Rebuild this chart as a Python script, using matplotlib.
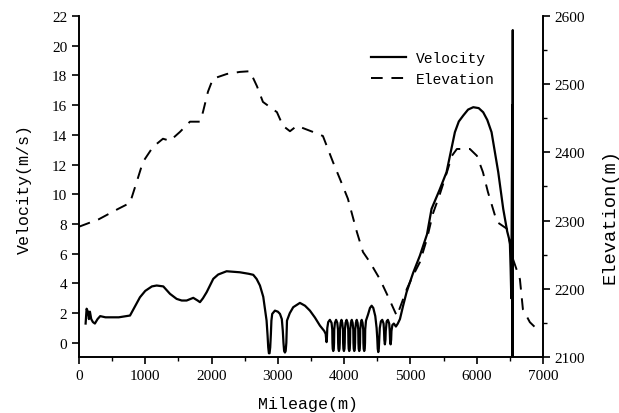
import matplotlib
matplotlib.use('Agg')
import matplotlib.pyplot as plt
from matplotlib.ticker import MultipleLocator

# elevation profile (dashed, right axis)
elev_x = [0, 300, 588, 770, 875, 965, 1116, 1267, 1373, 1523, 1674, 1825, 1870, 1946,
          2021, 2232, 2428, 2579, 2685, 2775, 2986, 3077, 3183, 3288, 3529, 3680, 3831,
          3937, 4057, 4193, 4284, 4389, 4540, 4661, 4796, 4947, 5038, 5143, 5249, 5339,
          5445, 5551, 5626, 5701, 5897, 6003, 6094, 6169, 6305, 6456, 6546, 6652, 6697,
          6802, 6908]
elev_y = [2291, 2302, 2317, 2326, 2358, 2386, 2408, 2420, 2417, 2430, 2445, 2445, 2459, 2489,
          2508, 2515, 2518, 2519, 2497, 2474, 2459, 2439, 2431, 2439, 2430, 2424, 2386,
          2361, 2332, 2283, 2254, 2239, 2214, 2189, 2160, 2200, 2219, 2239, 2273, 2310,
          2339, 2371, 2395, 2405, 2405, 2395, 2371, 2342, 2298, 2288, 2244, 2214, 2170,
          2151, 2141]

# velocity trace (solid, left axis); mileage doubles back where the trace loops
vel_x = [
    100, 115, 135, 150, 165, 185, 210, 240, 280, 320, 400, 600, 770,           # start
    850, 920, 1000, 1100, 1172, 1272, 1373, 1473, 1550, 1624, 1724, 1790,
    1825, 1870, 1926, 2026, 2100, 2227, 2428, 2560, 2629, 2680, 2730, 2780,
    2805, 2830, 2845, 2855, 2865, 2875, 2885, 2895, 2903, 2915, 2956, 3000,     # loop 1
    3032, 3060, 3075, 3085, 3095, 3107, 3118, 3128, 3133, 3138, 3180, 3232,     # loop 2
    3333, 3410, 3484, 3560, 3635, 3700,
    3722, 3730, 3735, 3740, 3746, 3760, 3785, 3810,
    3821, 3824, 3828, 3836, 3844, 3848, 3851, 3861, 3879, 3897,
    3907, 3910, 3914, 3922, 3930, 3934, 3937, 3947, 3960, 3972,
    3982, 3985, 3989, 3997, 4005, 4009, 4012, 4022, 4037, 4052,
    4062, 4065, 4069, 4077, 4085, 4089, 4092, 4102, 4115, 4128,
    4138, 4141, 4145, 4153, 4161, 4165, 4168, 4178, 4190, 4203,
    4213, 4216, 4220, 4228, 4236, 4240, 4243, 4253, 4265, 4278,
    4288, 4291, 4295, 4303, 4311, 4315, 4318, 4330, 4360, 4390, 4415, 4440,
    4470, 4490, 4500, 4507, 4515, 4523, 4530, 4538, 4555, 4575, 4595,
    4602, 4607, 4615, 4623, 4628, 4642, 4660, 4680,
    4688, 4693, 4701, 4709, 4714, 4728, 4750, 4781, 4810, 4842, 4890, 4942,
    5040, 5143, 5250, 5319, 5440, 5545, 5671, 5730, 5797, 5870, 5948, 6030,
    6098, 6160, 6224, 6325, 6400, 6460, 6500, 6512, 6522,
    6536, 6540, 6544, 6546]                                                    # spike
vel_y = [
    1.3, 2.3, 2.1, 1.6, 2.1, 1.6, 1.4, 1.3, 1.6, 1.8, 1.72, 1.72, 1.84,
    2.5, 3.07, 3.5, 3.8, 3.86, 3.8, 3.3, 2.96, 2.85, 2.85, 3.03, 2.85,
    2.74, 3.0, 3.41, 4.31, 4.6, 4.82, 4.75, 4.65, 4.58, 4.3, 3.86, 3.1,
    2.29, 1.5, 0.5, -0.3, -0.7, -0.7, -0.3, 0.6, 1.5, 1.95, 2.17, 2.1,
    1.95, 1.6, 0.8, 0.0, -0.55, -0.65, -0.55, 0.0, 0.8, 1.5, 2.0, 2.4,
    2.69, 2.5, 2.17, 1.7, 1.16, 0.8,
    0.6, 0.2, 0.05, 0.3, 1.0, 1.4, 1.55, 1.35,
    0.9, 0.0, -0.4, -0.55, -0.4, 0.0, 0.9, 1.35, 1.55, 1.35,
    0.9, 0.0, -0.4, -0.55, -0.4, 0.0, 0.9, 1.35, 1.55, 1.35,
    0.9, 0.0, -0.4, -0.55, -0.4, 0.0, 0.9, 1.35, 1.55, 1.35,
    0.9, 0.0, -0.4, -0.55, -0.4, 0.0, 0.9, 1.35, 1.55, 1.35,
    0.9, 0.0, -0.4, -0.55, -0.4, 0.0, 0.9, 1.35, 1.55, 1.35,
    0.9, 0.0, -0.4, -0.55, -0.4, 0.0, 0.9, 1.35, 1.55, 1.35,
    0.9, 0.0, -0.4, -0.55, -0.4, 0.0, 0.9, 1.5, 1.9, 2.35, 2.5, 2.35,
    1.8, 1.0, 0.3, -0.4, -0.62, -0.4, 0.3, 1.0, 1.45, 1.55, 1.3,
    0.8, 0.2, -0.1, 0.2, 0.8, 1.45, 1.55, 1.3,
    0.8, 0.2, -0.1, 0.2, 0.8, 1.2, 1.3, 1.1, 1.3, 1.6, 2.5, 3.41,
    4.7, 5.87, 7.3, 9.02, 10.3, 11.49, 14.18, 14.9, 15.3, 15.7, 15.86, 15.8,
    15.52, 15.0, 14.18, 11.49, 9.02, 7.5, 6.8, 5.0, 3.0,
    16.0, -1.5, 21.05, -1.5]

x_ticks = [0, 1000, 2000, 3000, 4000, 5000, 6000, 7000]
v_ticks = [0, 2, 4, 6, 8, 10, 12, 14, 16, 18, 20, 22]
e_ticks = [2100, 2200, 2300, 2400, 2500, 2600]

tick_font = 'Liberation Serif'
label_font = 'Liberation Mono'

fig = plt.figure(figsize=(6.19, 4.14), dpi=100)
ax1 = fig.add_axes([0.1276, 0.1353, 0.7496, 0.8237])
ax2 = ax1.twinx()

l1, = ax1.plot(vel_x, vel_y, color='black', linewidth=1.6, label='Velocity')
l2, = ax2.plot(elev_x, elev_y, color='black', linewidth=1.4, linestyle=(0, (6, 4.5)),
               label='Elevation')

ax1.set_xlim(0, 7000)
ax1.set_ylim(-0.95, 22)
ax2.set_ylim(2100, 2600)
ax1.set_xticks(x_ticks)
ax1.set_yticks(v_ticks)
ax2.set_yticks(e_ticks)
ax1.xaxis.set_minor_locator(MultipleLocator(500))
ax2.yaxis.set_minor_locator(MultipleLocator(50))

for ax in (ax1, ax2):
    ax.spines['top'].set_visible(False)
    for s in ax.spines.values():
        s.set_linewidth(1.2)
    ax.tick_params(which='major', direction='out', length=5, width=1.2, labelsize=11)
    ax.tick_params(which='minor', direction='out', length=3, width=1.0)
    for lab in ax.get_xticklabels() + ax.get_yticklabels():
        lab.set_fontfamily(tick_font)

# axis titles placed where the reference has them
fig.text(308 / 619, 1 - 405 / 414, 'Mileage(m)', fontfamily=label_font, fontsize=12,
         ha='center', va='center')
fig.text(24 / 619, 1 - 189 / 414, 'Velocity(m/s)', fontfamily=label_font, fontsize=12,
         rotation=90, ha='center', va='center')
fig.text(610 / 619, 1 - 217 / 414, 'Elevation(m)', fontfamily=label_font, fontsize=13.5,
         rotation=90, ha='center', va='center')

fig.legend(handles=[l1, l2], loc='upper left', bbox_to_anchor=(0.578, 0.905),
           frameon=False, prop={'family': label_font, 'size': 10.5},
           handlelength=2.4, handletextpad=0.7, labelspacing=0.45)

fig.savefig('out.png', dpi=100)
